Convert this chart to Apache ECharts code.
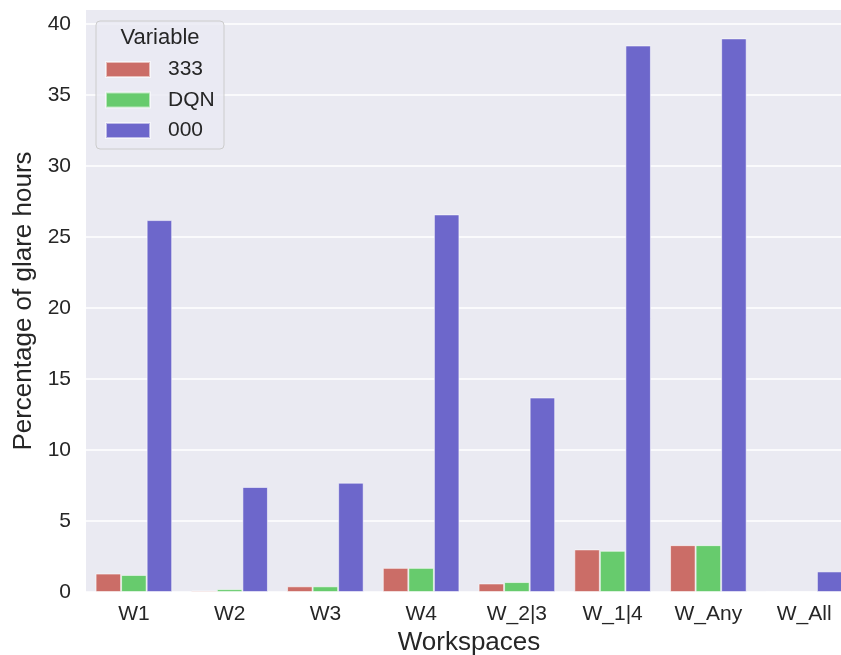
<!DOCTYPE html>
<html>
<head>
<meta charset="utf-8">
<script src="https://cdn.jsdelivr.net/npm/echarts@6/dist/echarts.min.js"></script>
<style>
html,body{margin:0;padding:0;background:#fff;}
#chart{width:841px;height:655px;}
</style>
</head>
<body>
<div id="chart"></div>
<script>
const categories = ['W1', 'W2', 'W3', 'W4', 'W_2|3', 'W_1|4', 'W_Any', 'W_All'];
const values333 = [1.3, 0.1, 0.4, 1.7, 0.6, 3.0, 3.3, 0];
const valuesDQN = [1.2, 0.2, 0.4, 1.7, 0.7, 2.9, 3.3, 0];
const values000 = [26.2, 7.4, 7.7, 26.6, 13.7, 38.5, 39.0, 1.45];
const seriesNames = ['333', 'DQN', '000'];
const colors = ['#CB6D67', '#67CB6D', '#6D67CB'];

const FONT = '"Liberation Sans", Arial, sans-serif';
const TXT = '#262626';
const allVals = [values333, valuesDQN, values000];

const chart = echarts.init(document.getElementById('chart'));
chart.setOption({
  animation: false,
  backgroundColor: '#ffffff',
  grid: {
    left: 86, width: 766, top: 10, height: 582,
    outerBoundsMode: 'none',
    containLabel: false,
    show: true, backgroundColor: '#EAEAF2', borderWidth: 0
  },
  xAxis: {
    type: 'category',
    data: categories,
    name: 'Workspaces',
    nameLocation: 'middle',
    nameGap: 35,
    nameTextStyle: { fontFamily: FONT, fontSize: 26, color: TXT },
    axisLine: { show: false },
    axisTick: { show: false },
    splitLine: { show: false },
    axisLabel: { fontFamily: FONT, fontSize: 21, color: TXT, margin: 12 }
  },
  yAxis: {
    type: 'value',
    min: 0, max: 41, interval: 5,
    name: 'Percentage of glare hours',
    nameLocation: 'middle',
    nameGap: 42,
    nameTextStyle: { fontFamily: FONT, fontSize: 26, color: TXT },
    axisLine: { show: false },
    axisTick: { show: false },
    axisLabel: { fontFamily: FONT, fontSize: 21, color: TXT, margin: 15, showMaxLabel: false },
    splitLine: { show: true, showMaxLine: false, lineStyle: { color: '#ffffff', width: 1.6 } }
  },
  legend: {
    orient: 'vertical',
    left: 105, top: 59,
    padding: 0,
    z: 10,
    itemWidth: 44, itemHeight: 15,
    itemGap: 9.5,
    icon: 'rect',
    data: seriesNames,
    textStyle: { fontFamily: FONT, fontSize: 21, color: TXT, padding: [0, 0, 0, 13] }
  },
  graphic: [
    { type: 'rect', z: 5, silent: true, shape: { x: 96, y: 21, width: 128, height: 128, r: 4 },
      style: { fill: 'rgba(234,234,242,0.8)', stroke: '#CCCCCC', lineWidth: 1 } },
    { type: 'text', z: 11, silent: true, style: { x: 160, y: 38, text: 'Variable', fontFamily: FONT, fontSize: 22,
      fill: TXT, textAlign: 'center', textVerticalAlign: 'middle' } }
  ],
  series: seriesNames.map((n, i) => ({
    name: n,
    type: 'bar',
    data: allVals[i],
    barGap: '0%',
    barCategoryGap: '20%',
    itemStyle: { color: colors[i], borderColor: 'rgba(255,255,255,0.55)', borderWidth: 1 }
  }))
});
</script>
</body>
</html>
